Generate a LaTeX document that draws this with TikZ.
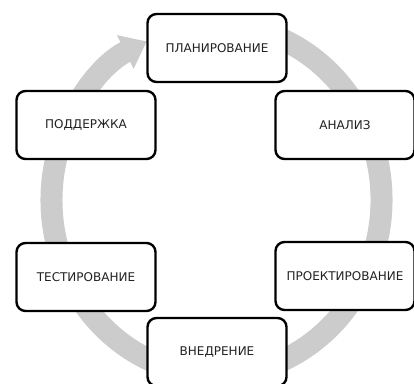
\documentclass[tikz,border=0pt]{standalone}
\usepackage{fontspec}
\setmainfont{DejaVu Sans}
\usepackage{tikz}
\usetikzlibrary{positioning,arrows.meta,calc}
\definecolor{ringgray}{HTML}{CCCCCC}
\definecolor{textdark}{HTML}{222222}

\begin{document}
\begin{tikzpicture}[
    x=1pt, y=1pt,
    every node/.style={font=\fontsize{12}{14}\selectfont, text=textdark},
    stagebox/.style={draw, line width=2.4pt, rounded corners=9pt, fill=white,
        minimum width=139pt, minimum height=68pt, inner sep=3pt, text centered},
    cyclering/.style={line width=22pt, ringgray, -{Triangle[width=36pt,length=24pt]}},
]
\useasboundingbox (0,0) rectangle (414,383);

% ---- Cycle ring ----
\coordinate (center) at (216.5,183);
\draw[cyclering] ([shift={(80:165 and 175)}]center)
    arc[start angle=80, end angle=-245, x radius=165, y radius=175];

% ---- Stages ----
\node[stagebox] (plan) at (217,335) {ПЛАНИРОВАНИЕ};
\node[stagebox] (analysis) at (345,258) {АНАЛИЗ};
\node[stagebox] (design) at (345,107) {ПРОЕКТИРОВАНИЕ};
\node[stagebox] (deploy) at (217,31) {ВНЕДРЕНИЕ};
\node[stagebox] (testing) at (86,106) {ТЕСТИРОВАНИЕ};
\node[stagebox] (support) at (86,258) {ПОДДЕРЖКА};

\end{tikzpicture}
\end{document}
